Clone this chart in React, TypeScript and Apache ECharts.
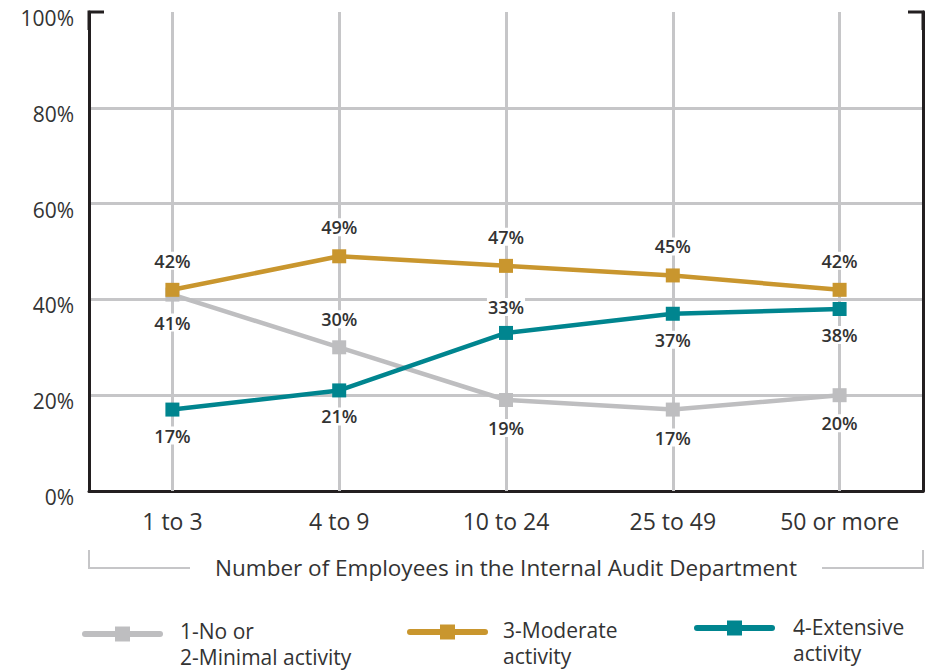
import React, { useEffect, useRef } from "react";
import * as echarts from "echarts";

const categories = ["1 to 3", "4 to 9", "10 to 24", "25 to 49", "50 or more"];
const minimalValues = [41, 30, 19, 17, 20];
const moderateValues = [42, 49, 47, 45, 42];
const extensiveValues = [17, 21, 33, 37, 38];
const minimalLabelPos = ["bottom", "top", "bottom", "bottom", "bottom"];
const moderateLabelPos = ["top", "top", "top", "top", "top"];
const extensiveLabelPos = ["bottom", "bottom", "top", "bottom", "bottom"];
const yTicks = [0, 20, 40, 60, 80, 100];
const legendNames = ["1-No or\n2-Minimal activity", "3-Moderate\nactivity", "4-Extensive\nactivity"];

const FONT = "'Open Sans', 'Noto Sans', sans-serif";
const GRAY = "#BEBEC0";
const GOLD = "#C9962E";
const TEAL = "#00858F";
const GRID = "#C6C6C8";
const AXIS = "#231F20";
const TEXT = "#333333";

export default function App() {
  const ref = useRef<HTMLDivElement>(null);
  useEffect(() => {
    if (!ref.current) return;
    const chart = echarts.init(ref.current, null, { renderer: "svg" });

    const mkSeries = (name: string, values: number[], pos: string[], color: string, dist: number, z: number) => ({
      name,
      type: "line",
      data: values.map((v, i) => ({
        value: v,
        label: { position: pos[i] },
      })),
      z,
      symbol: "rect",
      symbolSize: 14,
      lineStyle: { color, width: 4.5 },
      itemStyle: { color },
      label: {
        show: true,
        formatter: "{c}%",
        distance: dist,
        fontFamily: FONT,
        fontSize: 18,
        fontWeight: 600,
        color: TEXT,
        backgroundColor: "#ffffff",
        padding: [0, 1],
      },
    });

    const legendItems = [
      { name: legendNames[0], color: GRAY, x0: 85, x1: 160, y: 634, tx: 180, ty: 631 },
      { name: legendNames[1], color: GOLD, x0: 410, x1: 485, y: 632, tx: 503, ty: 630 },
      { name: legendNames[2], color: TEAL, x0: 697, x1: 772, y: 628, tx: 793, ty: 627 },
    ];
    const legendGraphics: any[] = [];
    legendItems.forEach((l) => {
      legendGraphics.push({
        type: "line",
        shape: { x1: l.x0, y1: l.y, x2: l.x1, y2: l.y },
        style: { stroke: l.color, lineWidth: 6, lineCap: "round" },
      });
      legendGraphics.push({
        type: "rect",
        shape: { x: (l.x0 + l.x1) / 2 - 7.5, y: l.y - 7.5, width: 15, height: 15 },
        style: { fill: l.color },
      });
      legendGraphics.push({
        type: "text",
        x: l.tx,
        y: l.ty - 13,
        style: {
          text: l.name,
          fontFamily: FONT,
          fontSize: 21,
          lineHeight: 26,
          fill: TEXT,
          textAlign: "left",
          textVerticalAlign: "top",
        },
      });
    });

    chart.setOption({
      animation: false,
      grid: { left: 89, right: 7, top: 12, bottom: 179, containLabel: false },
      xAxis: {
        type: "category",
        data: categories,
        boundaryGap: true,
        axisLine: { show: true, lineStyle: { color: AXIS, width: 3 } },
        axisTick: { show: false },
        splitLine: { show: false },
        axisLabel: { fontFamily: FONT, fontSize: 23, color: TEXT, margin: 18 },
        name: "Number of Employees in the Internal Audit Department",
        nameLocation: "middle",
        nameGap: 65,
        nameTextStyle: { fontFamily: FONT, fontSize: 22.5, color: TEXT },
      },
      yAxis: [
        {
          type: "value",
          min: 0,
          max: 100,
          interval: 20,
          axisLine: { show: true, lineStyle: { color: AXIS, width: 3 } },
          axisTick: { show: false },
          axisLabel: {
            formatter: "{a|{value}%}",
            margin: 15,
            rich: {
              a: {
                fontFamily: FONT,
                fontSize: 21,
                color: TEXT,
                padding: [12, 0, 0, 0],
              },
            },
          },
          splitLine: {
            show: true,
            lineStyle: {
              color: yTicks.map((t) => (t === 0 || t === 100 ? "transparent" : GRID)),
              width: 3,
            },
          },
        },
        {
          type: "value",
          position: "right",
          min: 0,
          max: 100,
          interval: 20,
          axisLine: { show: true, lineStyle: { color: AXIS, width: 3 } },
          axisTick: { show: false },
          axisLabel: { show: false },
          splitLine: { show: false },
        },
      ],
      series: [
        {
          name: "grid-verticals",
          type: "line",
          data: [],
          z: 1,
          silent: true,
          markLine: {
            z: 1,
            silent: true,
            symbol: "none",
            label: { show: false },
            lineStyle: { color: GRID, width: 3, type: "solid" },
            data: categories.map((c) => ({ xAxis: c })),
          },
        },
        mkSeries(legendNames[0], minimalValues, minimalLabelPos, GRAY, 12, 3),
        mkSeries(legendNames[1], moderateValues, moderateLabelPos, GOLD, 13, 4),
        mkSeries(legendNames[2], extensiveValues, extensiveLabelPos, TEAL, 10, 5),
      ],
      graphic: [
        {
          type: "polyline",
          shape: { points: [[89, 30], [89, 12], [104, 12]] },
          style: { stroke: AXIS, lineWidth: 3, fill: null },
          z: 10,
        },
        {
          type: "polyline",
          shape: { points: [[908, 12], [923, 12], [923, 30]] },
          style: { stroke: AXIS, lineWidth: 3, fill: null },
          z: 10,
        },
        {
          type: "polyline",
          shape: { points: [[89, 550], [89, 568], [190, 568]] },
          style: { stroke: GRID, lineWidth: 2, fill: null },
        },
        {
          type: "polyline",
          shape: { points: [[822, 568], [923, 568], [923, 550]] },
          style: { stroke: GRID, lineWidth: 2, fill: null },
        },
        ...legendGraphics,
      ],
    });
    return () => chart.dispose();
  }, []);
  return (
    <div
      ref={ref}
      style={{ position: "absolute", left: 0, top: 0, width: 930, height: 670 }}
    />
  );
}
